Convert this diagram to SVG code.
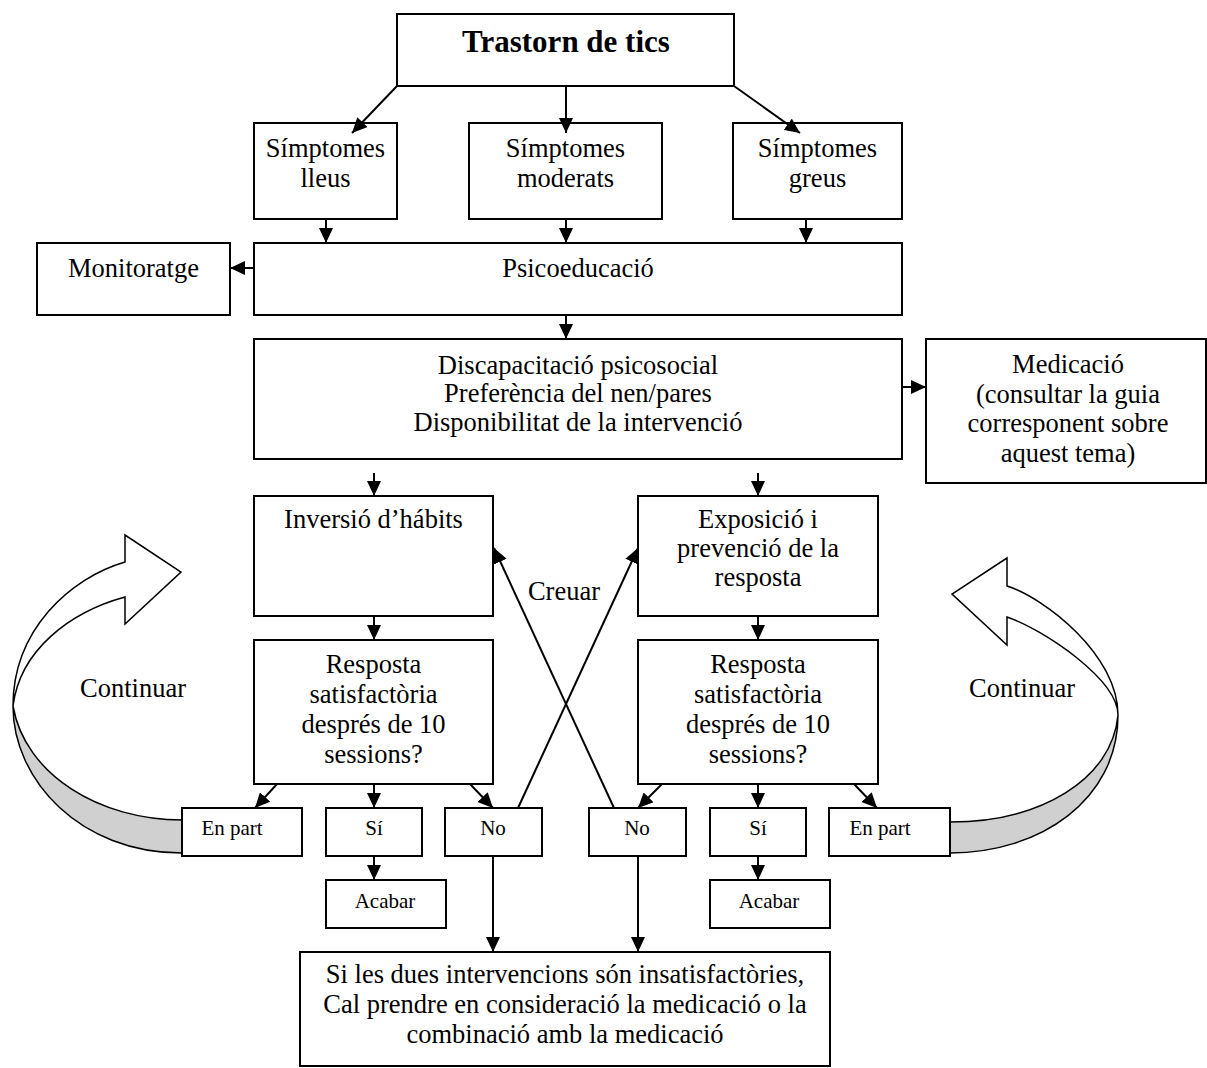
<svg xmlns="http://www.w3.org/2000/svg" width="1207" height="1068" viewBox="0 0 1207 1068">
<defs>
<marker id="ah" markerUnits="userSpaceOnUse" markerWidth="16" markerHeight="14" refX="15" refY="7" orient="auto">
<path d="M0,0 L15,7 L0,14 Z" fill="#000"/>
</marker>
<style>
.box{fill:#fff;stroke:#000;stroke-width:2}
.t{font-family:"Liberation Serif","Times New Roman",serif;font-size:26.5px;text-anchor:middle;fill:#000}
.s{font-family:"Liberation Serif","Times New Roman",serif;font-size:21px;text-anchor:middle;fill:#000}
.b{font-family:"Liberation Serif","Times New Roman",serif;font-size:31px;font-weight:bold;text-anchor:middle;fill:#000}
.c{fill:none;stroke:#000;stroke-width:2;marker-end:url(#ah)}
.ribbon{fill:#fff;stroke:#000;stroke-width:1.5}
.back{fill:#d0d0d0;stroke:#000;stroke-width:1.5}
</style>
</defs>
<rect width="1207" height="1068" fill="#fff"/>

<g id="curved-arrows">
<path class="back" d="M13,706 C13,780 80,853 182,853 L182,820 C100,820 25,775 13,706 Z"/>
<path class="ribbon" d="M125,562 L125,535 L181,572 L125,624 L125,597 C70,612 20,650 13,706 C13,630 70,578 125,562 Z"/>
<path class="back" d="M1118,715 C1118,800 1040,853 950,853 L950,822 C1040,822 1112,780 1118,715 Z"/>
<path class="ribbon" d="M1007,586 L1007,558 L952,594 L1007,645 L1007,617 C1045,630 1118,680 1118,715 C1118,655 1045,598 1007,586 Z"/>
<text class="t" x="133" y="697">Continuar</text>
<text class="t" x="1022" y="697">Continuar</text>
</g>

<g id="n-trastorn"><rect class="box" x="397" y="14" width="337" height="72"/><text class="b" x="566" y="52">Trastorn de tics</text></g>
<g id="n-lleus"><rect class="box" x="254" y="123" width="143" height="96"/><text class="t" x="325.5" y="157">Símptomes</text><text class="t" x="325.5" y="187">lleus</text></g>
<g id="n-moderats"><rect class="box" x="469" y="123" width="193" height="96"/><text class="t" x="565.5" y="157">Símptomes</text><text class="t" x="565.5" y="187">moderats</text></g>
<g id="n-greus"><rect class="box" x="733" y="123" width="169" height="96"/><text class="t" x="817.5" y="157">Símptomes</text><text class="t" x="817.5" y="187">greus</text></g>
<g id="n-monitoratge"><rect class="box" x="37" y="243" width="193" height="72"/><text class="t" x="133.5" y="277">Monitoratge</text></g>
<g id="n-psico"><rect class="box" x="254" y="243" width="648" height="72"/><text class="t" x="578" y="277">Psicoeducació</text></g>
<g id="n-discap"><rect class="box" x="254" y="339" width="648" height="120"/><text class="t" x="578" y="374">Discapacitació psicosocial</text><text class="t" x="578" y="402">Preferència del nen/pares</text><text class="t" x="578" y="431">Disponibilitat de la intervenció</text></g>
<g id="n-medicacio"><rect class="box" x="926" y="339" width="280" height="144"/><text class="t" x="1068" y="373">Medicació</text><text class="t" x="1068" y="403">(consultar la guia</text><text class="t" x="1068" y="432">corresponent sobre</text><text class="t" x="1068" y="462">aquest tema)</text></g>
<g id="n-inversio"><rect class="box" x="254" y="496" width="239" height="120"/><text class="t" x="373.5" y="528">Inversió d’hábits</text></g>
<g id="n-exposicio"><rect class="box" x="638" y="496" width="240" height="120"/><text class="t" x="758" y="528">Exposició i</text><text class="t" x="758" y="557">prevenció de la</text><text class="t" x="758" y="586">resposta</text></g>
<g id="n-resp-l"><rect class="box" x="254" y="640" width="239" height="144"/><text class="t" x="373.5" y="673">Resposta</text><text class="t" x="373.5" y="703">satisfactòria</text><text class="t" x="373.5" y="733">després de 10</text><text class="t" x="373.5" y="763">sessions?</text></g>
<g id="n-resp-r"><rect class="box" x="638" y="640" width="240" height="144"/><text class="t" x="758" y="673">Resposta</text><text class="t" x="758" y="703">satisfactòria</text><text class="t" x="758" y="733">després de 10</text><text class="t" x="758" y="763">sessions?</text></g>
<g id="n-enpart-l"><rect class="box" x="182" y="808" width="120" height="48"/><text class="s" x="232" y="835">En part</text></g>
<g id="n-si-l"><rect class="box" x="326" y="808" width="96" height="48"/><text class="s" x="374" y="835">Sí</text></g>
<g id="n-no-l"><rect class="box" x="445" y="808" width="97" height="48"/><text class="s" x="493" y="835">No</text></g>
<g id="n-acabar-l"><rect class="box" x="326" y="880" width="120" height="48"/><text class="s" x="385" y="908">Acabar</text></g>
<g id="n-no-r"><rect class="box" x="589" y="808" width="97" height="48"/><text class="s" x="637" y="835">No</text></g>
<g id="n-si-r"><rect class="box" x="710" y="808" width="96" height="48"/><text class="s" x="758" y="835">Sí</text></g>
<g id="n-enpart-r"><rect class="box" x="829" y="808" width="121" height="48"/><text class="s" x="880" y="835">En part</text></g>
<g id="n-acabar-r"><rect class="box" x="710" y="880" width="120" height="48"/><text class="s" x="769" y="908">Acabar</text></g>
<g id="n-final"><rect class="box" x="300" y="952" width="530" height="114"/><text class="t" x="565" y="983">Si les dues intervencions són insatisfactòries,</text><text class="t" x="565" y="1013">Cal prendre en consideració la medicació o la</text><text class="t" x="565" y="1043">combinació amb la medicació</text></g>

<g id="connectors">
<line class="c" x1="397" y1="86" x2="352" y2="133"/>
<line class="c" x1="566" y1="86" x2="566" y2="133"/>
<line class="c" x1="734" y1="86" x2="800" y2="133"/>
<line class="c" x1="326" y1="219" x2="326" y2="243"/>
<line class="c" x1="566" y1="219" x2="566" y2="243"/>
<line class="c" x1="806" y1="219" x2="806" y2="243"/>
<line class="c" x1="254" y1="268" x2="230" y2="268"/>
<line class="c" x1="566" y1="315" x2="566" y2="339"/>
<line class="c" x1="902" y1="387" x2="926" y2="387"/>
<line class="c" x1="374" y1="473" x2="374" y2="496"/>
<line class="c" x1="758" y1="473" x2="758" y2="496"/>
<line class="c" x1="374" y1="616" x2="374" y2="640"/>
<line class="c" x1="758" y1="616" x2="758" y2="640"/>
<line class="c" x1="277" y1="784" x2="255" y2="808"/>
<line class="c" x1="374" y1="784" x2="374" y2="808"/>
<line class="c" x1="470" y1="784" x2="493" y2="808"/>
<line class="c" x1="374" y1="856" x2="374" y2="880"/>
<line class="c" x1="662" y1="784" x2="638" y2="808"/>
<line class="c" x1="758" y1="784" x2="758" y2="808"/>
<line class="c" x1="854" y1="784" x2="877" y2="808"/>
<line class="c" x1="758" y1="856" x2="758" y2="880"/>
<line class="c" x1="518" y1="808" x2="638" y2="548"/>
<line class="c" x1="614" y1="808" x2="494" y2="548"/>
<line class="c" x1="493" y1="856" x2="493" y2="952"/>
<line class="c" x1="638" y1="856" x2="638" y2="952"/>
<text class="t" x="564" y="600">Creuar</text>
</g>
</svg>
